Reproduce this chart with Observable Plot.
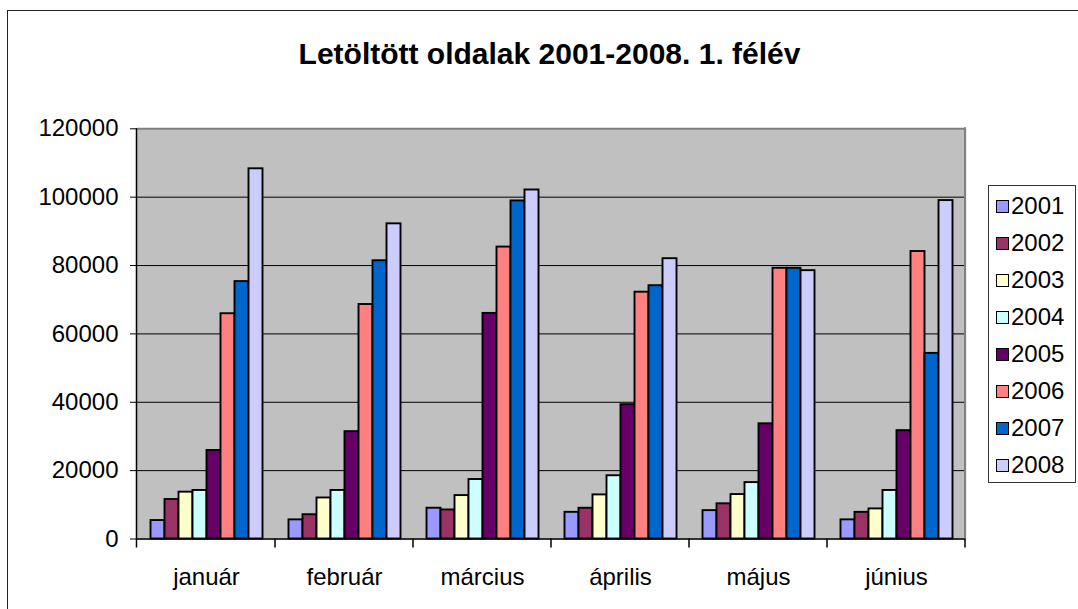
<!DOCTYPE html>
<html><head><meta charset="utf-8">
<script src="https://cdn.jsdelivr.net/npm/d3@7"></script>
<script src="https://cdn.jsdelivr.net/npm/@observablehq/plot@0.6"></script>
<style>
html,body{margin:0;padding:0;background:#fff;overflow:hidden;width:1078px;height:609px;font-family:"Liberation Sans",Arial,sans-serif}
#wrap{position:relative;width:1078px;height:609px;overflow:hidden}
#border{position:absolute;left:7px;top:10px;width:1100px;height:640px;border:1.5px solid #222;box-sizing:border-box}
#title{position:absolute;left:0;top:39px;width:1099px;text-align:center;font-weight:bold;font-size:30px;line-height:30px;color:#000}
#chart{position:absolute;left:0;top:0}
#legend{position:absolute;left:988px;top:185px;width:88px;height:298px;border:1.5px solid #333;box-sizing:border-box;background:#fff}
.item{position:absolute;left:7px;height:24px;display:flex;align-items:center;font-size:24px;line-height:24px;color:#000}
.sw{width:11px;height:11px;border:1.5px solid #000;margin-right:2px;box-sizing:content-box}
</style></head>
<body><div id="wrap"><div id="border"></div><div id="chart"></div><div id="title"></div><div id="legend"></div></div>
<script>
const titleText = "Letöltött oldalak 2001-2008. 1. félév";
const months = ["január","február","március","április","május","június"];
const years = ["2001","2002","2003","2004","2005","2006","2007","2008"];
const colors = ["#9999FF","#993366","#FFFFCC","#CCFFFF","#660066","#FF8080","#0066CC","#CCCCFF"];
const yTicks = [0,20000,40000,60000,80000,100000,120000];
const v2001 = [5400, 5600, 9000, 7800, 8300, 5600];
const v2002 = [11550, 7100, 8500, 9000, 10300, 7800];
const v2003 = [13700, 12000, 12700, 12900, 13000, 8800];
const v2004 = [14200, 14200, 17400, 18500, 16500, 14200];
const v2005 = [25900, 31400, 66000, 39300, 33700, 31700];
const v2006 = [65900, 68600, 85400, 72200, 79200, 84100];
const v2007 = [75300, 81400, 98900, 74100, 79200, 54300];
const v2008 = [108300, 92200, 102100, 82000, 78500, 99000];

const series = [v2001,v2002,v2003,v2004,v2005,v2006,v2007,v2008];
const data = [];
months.forEach((m,i)=>years.forEach((y,j)=>data.push({month:m, year:y, value:series[j][i]})));

document.getElementById("title").textContent = titleText;

const chart = Plot.plot({
  width:1078, height:609,
  marginTop:128.3, marginBottom:70.5, marginLeft:134.5, marginRight:111,
  style:{fontFamily:'"Liberation Sans",Arial,sans-serif', fontSize:"24px", color:"#000", background:"transparent", overflow:"visible"},
  fx:{domain:months, padding:0, label:null},
  x:{domain:years, paddingInner:0, paddingOuter:0.686, axis:null},
  y:{domain:[0,120000], label:null},
  color:{domain:years, range:colors},
  marks:[
    Plot.frame({fill:"#C0C0C0", stroke:"#C0C0C0", strokeWidth:1.5}),
    Plot.gridY({ticks:yTicks.slice(1,-1), stroke:"#000", strokeOpacity:1, strokeWidth:1}),
    Plot.ruleY([120000],{stroke:"#808080", strokeWidth:2}),
    Plot.barY(data,{fx:"month", x:"year", y:"value", fill:"year", stroke:"#000", strokeWidth:1.9, inset:0}),
    Plot.ruleY([0],{stroke:"#000", strokeWidth:1.5}),
    Plot.axisY({ticks:yTicks, tickSize:7, tickPadding:12, tickFormat:d3.format("d"), fontSize:24, anchor:"left", label:null}),
    Plot.axisFx({tickSize:0, tickPadding:29, fontSize:24, label:null, anchor:"bottom"})
  ]
});
document.getElementById("chart").appendChild(chart);

// axis lines and category-boundary ticks from Plot's scales
const fx = chart.scale("fx"), ys = chart.scale("y");
const svg = d3.select(chart);
const x0 = fx.apply(months[0]);
const step = fx.step;
const yTop = ys.apply(120000), yBot = ys.apply(0);
const g = svg.append("g");
g.append("line").attr("x1", x0 + months.length*step).attr("x2", x0 + months.length*step)
  .attr("y1", yTop - 1).attr("y2", yBot).attr("stroke","#808080").attr("stroke-width",2);
g.append("line").attr("x1", x0 - 0.5).attr("x2", x0 - 0.5).attr("y1", yTop).attr("y2", yBot + 0.75)
  .attr("stroke","#000").attr("stroke-width",1.5);
for (let i = 0; i <= months.length; i++) {
  const xx = x0 + i*step - (i===0?0.5:0);
  g.append("line").attr("x1", xx).attr("x2", xx).attr("y1", yBot).attr("y2", yBot + 9)
    .attr("stroke","#000").attr("stroke-width",1.5);
}

// legend
const leg = document.getElementById("legend");
years.forEach((y,i)=>{
  const it = document.createElement("div");
  it.className = "item";
  it.style.top = (8 + i*37) + "px";
  const sw = document.createElement("span");
  sw.className = "sw"; sw.style.background = colors[i];
  const t = document.createElement("span"); t.textContent = y;
  it.appendChild(sw); it.appendChild(t);
  leg.appendChild(it);
});
</script></body></html>
